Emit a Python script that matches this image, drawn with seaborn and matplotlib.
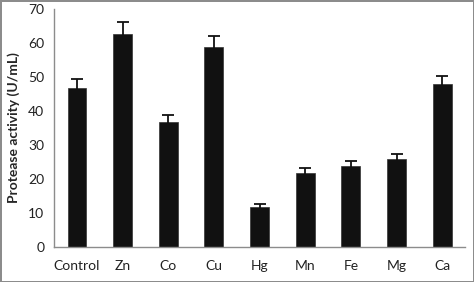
import matplotlib as mpl
import matplotlib.pyplot as plt
import numpy as np
import pandas as pd
import seaborn as sns

# data
metals = ['Control', 'Zn', 'Co', 'Cu', 'Hg', 'Mn', 'Fe', 'Mg', 'Ca']
activity = [46.9, 62.8, 36.9, 58.9, 11.9, 21.9, 23.9, 25.9, 47.9]
activity_err = [2.4, 3.3, 2.0, 3.2, 0.7, 1.2, 1.4, 1.5, 2.5]

sns.set_style('white')
mpl.rcParams.update({
    'font.family': ['Lato', 'DejaVu Sans'],
    'font.size': 10,
})

df = pd.DataFrame({'metal': metals, 'activity': activity})

fig = plt.figure(figsize=(4.74, 2.82), dpi=100)
fig.patch.set_edgecolor('#8c8c8c')
fig.patch.set_linewidth(2)
ax = fig.add_axes([0.114, 0.124, 0.867, 0.844])

sns.barplot(data=df, x='metal', y='activity', color='#111111',
            width=0.41, errorbar=None, edgecolor='#333333', linewidth=0.5,
            ax=ax)
ax.errorbar(np.arange(len(metals)), activity, yerr=activity_err, fmt='none',
            ecolor='#111111', elinewidth=1.3, capsize=4, capthick=1.3)

ax.set_xlim(-0.5, len(metals) - 0.5)
ax.set_ylim(0, 70)
ax.set_yticks(range(0, 71, 10))
ax.set_xlabel('')
ax.set_ylabel('Protease activity (U/mL)', fontweight='bold', fontsize=10, labelpad=6)

for side in ['top', 'right']:
    ax.spines[side].set_visible(False)
for side in ['left', 'bottom']:
    ax.spines[side].set_color('#8c8c8c')
    ax.spines[side].set_linewidth(1.0)

ax.set_xticks(np.arange(-0.5, len(metals)), minor=True)
ax.tick_params(axis='x', which='major', length=0, pad=9, labelsize=10, colors='#222222')
ax.tick_params(axis='x', which='minor', length=4, width=1, color='#8c8c8c', direction='out')
ax.tick_params(axis='y', length=4, width=1, color='#8c8c8c', direction='out',
               labelsize=10, labelcolor='#222222', pad=3)

fig.savefig('out.png', dpi=100, edgecolor=fig.get_edgecolor())
